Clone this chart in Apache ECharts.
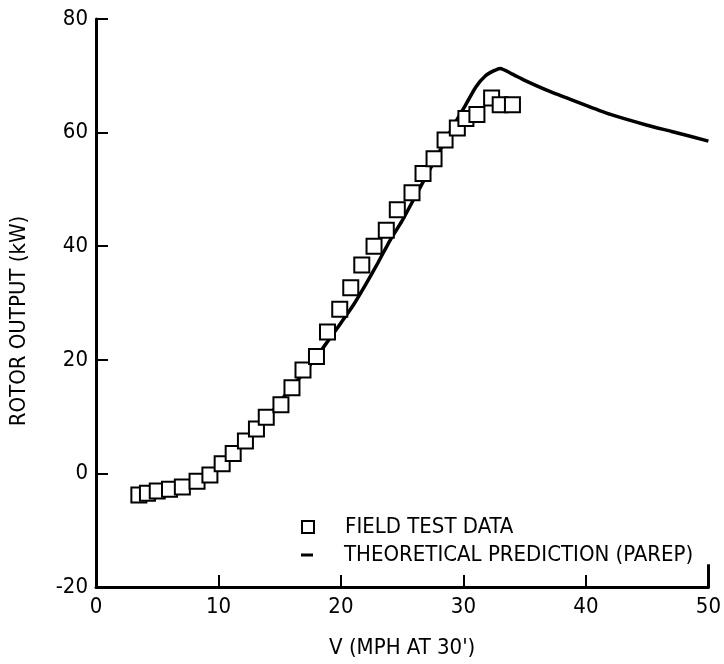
<!DOCTYPE html>
<html>
<head>
<meta charset="utf-8">
<script src="https://cdn.jsdelivr.net/npm/echarts@6/dist/echarts.min.js"></script>
<style>
html,body{margin:0;padding:0;background:#fff;overflow:hidden;}
#chart{width:100vw;height:100vh;}
</style>
</head>
<body>
<div id="chart"></div>
<script>
// Field test data (V in mph at 30', rotor output kW)
var fieldV = [3.5,4.2,5.0,6.0,7.05,8.25,9.3,10.3,11.2,12.2,13.1,13.9,15.1,16.0,16.9,18.0,18.9,19.9,20.8,21.7,22.7,23.7,24.6,25.8,26.7,27.6,28.5,29.5,30.2,31.1,32.3,33.0,34.0];
var fieldP = [-3.8,-3.5,-3.1,-2.8,-2.4,-1.4,-0.3,1.7,3.5,5.7,7.8,9.9,12.1,15.1,18.2,20.6,24.9,28.9,32.7,36.7,40.0,42.8,46.4,49.4,52.8,55.4,58.7,60.8,62.5,63.2,66.1,64.9,64.9];
// Theoretical prediction (PAREP)
var theoryV = [3.5,5,6,7,8,9,10,11,12,13,14,15,16,17,18,19,20,21,22,23,24,25,26,27,28,29,30,31,31.8,32.5,33,34,35,37,40,42,45,47,50];
var theoryP = [-4.2,-3.4,-3.0,-2.5,-1.8,-0.6,1.0,2.9,5.0,7.4,9.8,12.6,15.2,17.8,20.5,23.5,26.5,29.6,33.2,37.0,41.0,44.5,48.5,52.5,56.5,60.5,64.2,68.0,70.0,70.9,71.3,70.3,69.2,67.3,64.8,63.2,61.3,60.2,58.5];
var xTicks = [0,10,20,30,40,50];
var yTicks = [-20,0,20,40,60,80];
var fieldName = 'FIELD TEST DATA';
var theoryName = 'THEORETICAL PREDICTION (PAREP)';
var xTitle = "V (MPH AT 30')";
var yTitle = 'ROTOR OUTPUT (kW)';

var FONT = '"DejaVu Sans Condensed","Liberation Sans Narrow",sans-serif';

function pairs(a, b){ return a.map(function(v,i){ return [v, b[i]]; }); }

var xMax = xTicks[xTicks.length-1], yMin = yTicks[0];

var chart = echarts.init(document.getElementById('chart'), null, {renderer:'canvas'});
chart.setOption({
  animation:false,
  backgroundColor:'#fff',
  grid:{left:93, right:14, top:19, bottom:67, containLabel:false},
  xAxis:{
    type:'value', min:xTicks[0], max:xMax, interval:10,
    name:xTitle, nameLocation:'middle', nameGap:50,
    nameTextStyle:{fontFamily:FONT, fontSize:22, color:'#000'},
    axisLine:{show:true, onZero:false, lineStyle:{color:'#000', width:3}},
    axisTick:{show:true, inside:true, length:12, lineStyle:{color:'#000', width:2}},
    axisLabel:{fontFamily:FONT, fontSize:22, color:'#000', margin:9},
    splitLine:{show:false}
  },
  yAxis:{
    type:'value', min:yMin, max:yTicks[yTicks.length-1], interval:20,
    name:yTitle, nameLocation:'middle', nameGap:66, nameRotate:90,
    nameTextStyle:{fontFamily:FONT, fontSize:22, color:'#000', padding:[0,36,0,0]},
    axisLine:{show:true, onZero:false, lineStyle:{color:'#000', width:3}},
    axisTick:{show:true, inside:true, length:12, lineStyle:{color:'#000', width:2}},
    axisLabel:{fontFamily:FONT, fontSize:22, color:'#000', margin:8},
    splitLine:{show:false}
  },
  legend:[
    {data:[{name:fieldName, icon:'rect', itemStyle:{color:'#fff', borderColor:'#000', borderWidth:2}}],
     left:296, top:511, itemWidth:12, itemHeight:12,
     textStyle:{fontFamily:FONT, fontSize:22, color:'#000', padding:[0,0,0,26]}},
    {data:[{name:theoryName, icon:'rect', itemStyle:{color:'#000'}}],
     left:296, top:539, itemWidth:12, itemHeight:3,
     textStyle:{fontFamily:FONT, fontSize:22, color:'#000', padding:[0,0,0,26]}}
  ],
  series:[
    {name:theoryName, type:'line', data:pairs(theoryV, theoryP), showSymbol:false, symbol:'none',
     smooth:0.2, lineStyle:{color:'#000', width:3.5}, itemStyle:{color:'#000'}, z:2,
     markLine:{silent:true, symbol:'none', label:{show:false},
       lineStyle:{color:'#000', width:3, type:'solid'},
       data:[[{coord:[xMax, yMin]},{coord:[xMax, yMin+4]}]]}},
    {name:fieldName, type:'scatter', data:pairs(fieldV, fieldP), symbol:'rect', symbolSize:15,
     itemStyle:{color:'#fff', borderColor:'#000', borderWidth:2, opacity:1}, z:3}
  ]
});
</script>
</body>
</html>
